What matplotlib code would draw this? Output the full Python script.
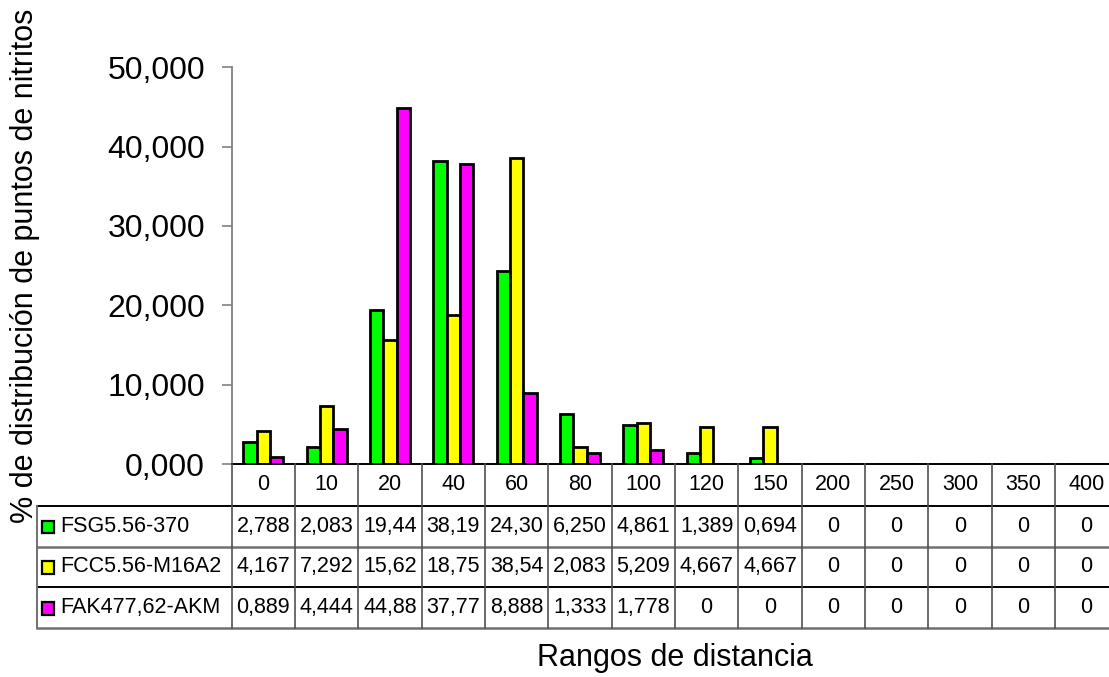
import matplotlib
matplotlib.use("Agg")
import matplotlib.pyplot as plt
from matplotlib.ticker import FuncFormatter, MultipleLocator
from matplotlib.patches import Rectangle

plt.rcParams['font.family'] = ['Liberation Sans', 'DejaVu Sans']

categories = ["0", "10", "20", "40", "60", "80", "100", "120", "150",
              "200", "250", "300", "350", "400"]
series_names = ["FSG5.56-370", "FCC5.56-M16A2", "FAK477,62-AKM"]
fsg = [2.788, 2.083, 19.44, 38.19, 24.30, 6.250, 4.861, 1.389, 0.694, 0, 0, 0, 0, 0]
fcc = [4.167, 7.292, 15.62, 18.75, 38.54, 2.083, 5.209, 4.667, 4.667, 0, 0, 0, 0, 0]
fak = [0.889, 4.444, 44.88, 37.77, 8.888, 1.333, 1.778, 0, 0, 0, 0, 0, 0, 0]
fsg_labels = ["2,788", "2,083", "19,44", "38,19", "24,30", "6,250", "4,861", "1,389", "0,694",
              "0", "0", "0", "0", "0"]
fcc_labels = ["4,167", "7,292", "15,62", "18,75", "38,54", "2,083", "5,209", "4,667", "4,667",
              "0", "0", "0", "0", "0"]
fak_labels = ["0,889", "4,444", "44,88", "37,77", "8,888", "1,333", "1,778", "0", "0",
              "0", "0", "0", "0", "0"]
colors = ["#00FF00", "#FFFF00", "#FF00FF"]

W, H = 1109, 677
fig = plt.figure(figsize=(W / 100, H / 100), dpi=100)

col_w = 63.33
x0 = 231.7
n = len(categories)
y0_px, y50_px = 464.0, 67.3

# main bar axes
ax = fig.add_axes([x0 / W, 1 - y0_px / H, n * col_w / W, (y0_px - y50_px) / H])
values = [fsg, fcc, fak]
bw = 0.21
offsets = [-bw, 0, bw]
for vals, c, off in zip(values, colors, offsets):
    xs = [i + 0.5 + off for i in range(n)]
    hs = [v if v > 0 else 0 for v in vals]
    ax.bar(xs, hs, width=bw, color=c, edgecolor="black", linewidth=2.0, zorder=3)

ax.set_xlim(0, n)
ax.set_ylim(0, 50)
ax.yaxis.set_major_locator(MultipleLocator(10))
ax.yaxis.set_major_formatter(FuncFormatter(lambda v, p: f"{v:.3f}".replace(".", ",")))
ax.tick_params(axis="y", labelsize=23, length=7.2, width=1.2, color="#808080", pad=12)
ax.set_xticks([])
for s in ["top", "right", "bottom"]:
    ax.spines[s].set_visible(False)
ax.spines["left"].set_color("#808080")
ax.spines["left"].set_linewidth(1.3)

# table axes
left_px = 37.0
right_px = x0 + n * col_w
top_px, bot_px = 464.0, 628.0
tax = fig.add_axes([left_px / W, 1 - bot_px / H, (right_px - left_px) / W, (bot_px - top_px) / H])
xl = (left_px - x0) / col_w
tax.set_xlim(xl, n)
tax.set_ylim(4, 0)
tax.axis("off")

row_y = [0, 1.02, 2.02, 3.0, 4.0]
lc_dark = "black"
lc_gray = "#707070"
# horizontal lines
tax.plot([0, n], [row_y[0]] * 2, color=lc_dark, lw=1.4, clip_on=False)
tax.plot([xl, n], [row_y[1]] * 2, color=lc_dark, lw=1.4, clip_on=False)
tax.plot([xl, n], [row_y[2]] * 2, color=lc_gray, lw=1.8, clip_on=False)
tax.plot([xl, n], [row_y[3]] * 2, color=lc_dark, lw=1.4, clip_on=False)
tax.plot([xl, n], [row_y[4]] * 2, color=lc_gray, lw=1.8, clip_on=False)
# vertical lines
tax.plot([xl, xl], [row_y[1], row_y[4]], color=lc_gray, lw=1.4, clip_on=False)
for i in range(n + 1):
    tax.plot([i, i], [row_y[0], row_y[4]], color="#505050", lw=1.2, clip_on=False)

fs = 15.5
for i, cat in enumerate(categories):
    tax.text(i + 0.5, (row_y[0] + row_y[1]) / 2, cat, ha="center", va="center", fontsize=fs)

labels = [fsg_labels, fcc_labels, fak_labels]
for r, (name, c, labs) in enumerate(zip(series_names, colors, labels)):
    yc = (row_y[r + 1] + row_y[r + 2]) / 2
    for i, lab in enumerate(labs):
        tax.text(i + 0.5, yc, lab, ha="center", va="center", fontsize=fs)
    # legend key
    kx = (41.7 - x0) / col_w
    kw = 12.6 / col_w
    kh = 12.6 / 41.0
    tax.add_patch(Rectangle((kx, yc - kh / 2 + 0.02), kw, kh, facecolor=c,
                            edgecolor="black", lw=1.6, clip_on=False))
    tax.text((60.0 - x0) / col_w, yc, name, ha="left", va="center", fontsize=fs)

fig.text(25 / W, 1 - 266 / H, "% de distribución de puntos de nitritos",
         rotation=90, ha="center", va="center", fontsize=22)
fig.text(675 / W, 1 - 658 / H, "Rangos de distancia", ha="center", va="center", fontsize=22)

fig.savefig("out.png", dpi=100)
